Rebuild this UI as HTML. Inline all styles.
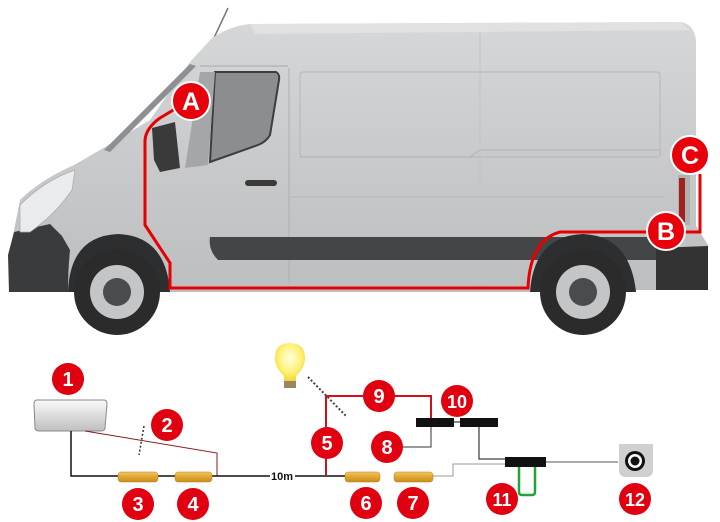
<!DOCTYPE html>
<html><head><meta charset="utf-8"><style>
html,body{margin:0;padding:0;background:#fff;}
svg{display:block;}
text{font-family:"Liberation Sans",sans-serif;font-weight:bold;}
</style></head><body>
<svg width="720" height="522" viewBox="0 0 720 522" xmlns="http://www.w3.org/2000/svg">
<defs>
<linearGradient id="body" x1="0" y1="0" x2="0" y2="1">
<stop offset="0" stop-color="#d6d7d8"/><stop offset="0.5" stop-color="#c9cacb"/><stop offset="1" stop-color="#bdbebf"/>
</linearGradient>
<linearGradient id="scr" x1="0" y1="0" x2="0" y2="1"><stop offset="0" stop-color="#fafafa"/><stop offset="1" stop-color="#bfbfbf"/></linearGradient>
<linearGradient id="conn" x1="0" y1="0" x2="0" y2="1"><stop offset="0" stop-color="#f3c766"/><stop offset="0.5" stop-color="#e0a531"/><stop offset="1" stop-color="#c98d1d"/></linearGradient>
<radialGradient id="bulb" cx="0.5" cy="0.4" r="0.6"><stop offset="0" stop-color="#ffffe0"/><stop offset="0.6" stop-color="#fff27a"/><stop offset="1" stop-color="#f1d83a"/></radialGradient>
</defs>
<line x1="213" y1="40" x2="228" y2="8" stroke="#777" stroke-width="1.5"/>
<path d="M250 24 Q230 26 212 38 L190 62 L150 120 L100 150 L74 165 Q40 180 20 200 L14 230 L9 290 L70 292 Q80 240 118 238 Q160 240 168 292 L530 292 Q540 240 583 238 Q625 240 635 290 L708 290 L708 245 L696 226 L696 40 Q694 24 680 22 Z" fill="url(#body)"/>
<path d="M250 24 L680 22 L690 30 L255 34 Z" fill="#e0e1e2"/>
<path d="M14 232 L50 224 L62 236 L70 250 Q68 270 68 292 L9 292 L8 255 Z" fill="#3a3b3c"/>
<path d="M20 205 Q45 180 75 170 L72 190 Q55 215 30 232 L20 232 Z" fill="#e9ebee" stroke="#aaa" stroke-width="0.7"/>
<path d="M190 64 L196 66 L110 152 L104 150 Z" fill="#8d8f92"/>
<path d="M152 128 L175 122 L180 168 L160 172 L154 160 Z" fill="#3a3a3a"/>
<path d="M215 72 L276 72 Q280 74 279 80 L270 135 Q266 142 258 145 L210 162 Z" fill="#8c8d8f" stroke="#3d3d3d" stroke-width="2"/>
<path d="M200 72 L215 72 L208 165 L185 168 Z" fill="#a5a6a8"/>
<line x1="289" y1="68" x2="289" y2="282" stroke="#aeafb0" stroke-width="1"/>
<path d="M200 66 L288 66" stroke="#a9aaab" stroke-width="1" fill="none"/>
<rect x="300" y="72" width="360" height="85" rx="3" fill="none" stroke="#b5b6b7" stroke-width="1"/>
<path d="M300 157 L470 157 L480 150 L660 150" fill="none" stroke="#b0b1b2"/>
<line x1="290" y1="197" x2="665" y2="197" stroke="#b5b6b7"/>
<line x1="480" y1="33" x2="480" y2="282" stroke="#c2c3c4"/>
<rect x="245" y="180" width="32" height="6" rx="3" fill="#3a3a3a"/>
<path d="M210 237 L657 237 L657 260 L218 260 Q208 250 210 237 Z" fill="#444546"/>
<path d="M656 248 L708 246 L708 290 L656 290 Z" fill="#333"/>
<rect x="678" y="175" width="12" height="50" fill="#b0b0b0"/>
<rect x="679" y="178" width="6" height="44" fill="#a32020"/>
<path d="M68 292 Q70 236 118 234 Q166 236 170 292 Z" fill="#2d2e2f"/>
<path d="M530 292 Q534 236 583 234 Q630 236 636 292 Z" fill="#2d2e2f"/>
<g>
<circle cx="117" cy="292" r="43" fill="#2b2b2c"/><circle cx="117" cy="292" r="27" fill="#c3c5c7"/><circle cx="117" cy="292" r="14" fill="#4a4b4c"/>
<circle cx="583" cy="292" r="43" fill="#2b2b2c"/><circle cx="583" cy="292" r="27" fill="#c3c5c7"/><circle cx="583" cy="292" r="14" fill="#4a4b4c"/>
</g>
<path d="M190 100 L160 118 Q146 128 145 140 L145 225 L170 263 L170 288 L528 288 Q530 240 560 232 L700 232 L700 174" fill="none" stroke="#e60000" stroke-width="3"/>
<g fill="#e8000b" stroke="#fff" stroke-width="2">
<circle cx="191" cy="101" r="19"/><circle cx="666" cy="231" r="19"/><circle cx="690" cy="155" r="19"/>
</g>
<g fill="#fff" font-size="25" text-anchor="middle">
<text x="191" y="110">A</text><text x="666" y="240">B</text><text x="690" y="164">C</text>
</g>

<path d="M37 400 L104 400 Q107 400 107 404 L105 428 Q105 431 101 431 L39 431 Q35 431 35 428 L34 404 Q34 400 37 400 Z" fill="url(#scr)" stroke="#888" stroke-width="1"/>
<path d="M85 431 L217 453 L217 476" fill="none" stroke="#8a1a1a" stroke-width="1"/>
<path d="M71 431 L71 476 L270 476 M295 476 L345 476" fill="none" stroke="#111" stroke-width="1.5"/>
<text x="282" y="480" font-size="11" text-anchor="middle" fill="#111">10m</text>
<line x1="144" y1="426" x2="139" y2="455" stroke="#333" stroke-width="1.5" stroke-dasharray="2,2"/>
<line x1="308" y1="377" x2="347" y2="417" stroke="#444" stroke-width="2" stroke-dasharray="2,2"/>
<path d="M290 343 Q305 343 305 358 Q305 368 296 376 L296 381 L284 381 L284 376 Q275 368 275 358 Q275 343 290 343 Z" fill="url(#bulb)"/>
<rect x="284" y="381" width="12" height="7" fill="#9a8760"/>
<path d="M326 476 L326 396 L431 396 L431 419" fill="none" stroke="#d0121a" stroke-width="2"/>
<path d="M402 447 L431 447 L431 423" fill="none" stroke="#333" stroke-width="1"/>
<rect x="416" y="418" width="38" height="9" fill="#111"/>
<rect x="460" y="418" width="38" height="9" fill="#111"/>
<line x1="454" y1="422" x2="460" y2="422" stroke="#111"/>
<path d="M479 427 L479 459 L505 459" fill="none" stroke="#111" stroke-width="1"/>
<path d="M433 476 L453 476 L453 464 L505 464" fill="none" stroke="#999" stroke-width="1"/>
<rect x="505" y="457" width="41" height="10" fill="#111"/>
<path d="M519 467 L519 492 Q519 495 522 495 L532 495 Q535 495 535 492 L535 467" fill="none" stroke="#22a43a" stroke-width="2.5"/>
<line x1="546" y1="462" x2="618" y2="462" stroke="#555" stroke-width="1"/>
<path d="M619 444 L653 444 L653 470 Q653 477 646 477 L626 477 Q619 477 619 470 Z" fill="#d0d0d2"/>
<circle cx="635" cy="461" r="10" fill="#111"/><circle cx="635" cy="461" r="7" fill="#fff"/><circle cx="635" cy="461" r="4.5" fill="#111"/>
<g fill="url(#conn)" stroke="#b57d18" stroke-width="0.5">
<rect x="118" y="472" width="40" height="10" rx="3"/>
<rect x="175" y="472" width="37" height="10" rx="3"/>
<rect x="345" y="472" width="35" height="10" rx="3"/>
<rect x="394" y="472" width="39" height="10" rx="3"/>
</g>
<g fill="#e00010">
<circle cx="68" cy="379" r="16"/><circle cx="167" cy="425" r="16"/><circle cx="138" cy="504" r="16"/><circle cx="193" cy="504" r="16"/>
<circle cx="327" cy="443" r="16"/><circle cx="366" cy="503" r="16"/><circle cx="413" cy="503" r="16"/><circle cx="387" cy="447" r="16"/>
<circle cx="379" cy="396" r="16"/><circle cx="457" cy="401" r="16"/><circle cx="502" cy="499" r="16"/><circle cx="635" cy="499" r="16"/>
</g>
<g fill="#fff" font-size="20" text-anchor="middle">
<text x="68" y="386">1</text><text x="167" y="432">2</text><text x="138" y="511">3</text><text x="193" y="511">4</text>
<text x="327" y="450">5</text><text x="366" y="510">6</text><text x="413" y="510">7</text><text x="387" y="454">8</text>
<text x="379" y="403">9</text><text x="457" y="408" font-size="18">10</text><text x="502" y="506" font-size="18">11</text><text x="635" y="506" font-size="18">12</text>
</g>
</svg>
</body></html>
